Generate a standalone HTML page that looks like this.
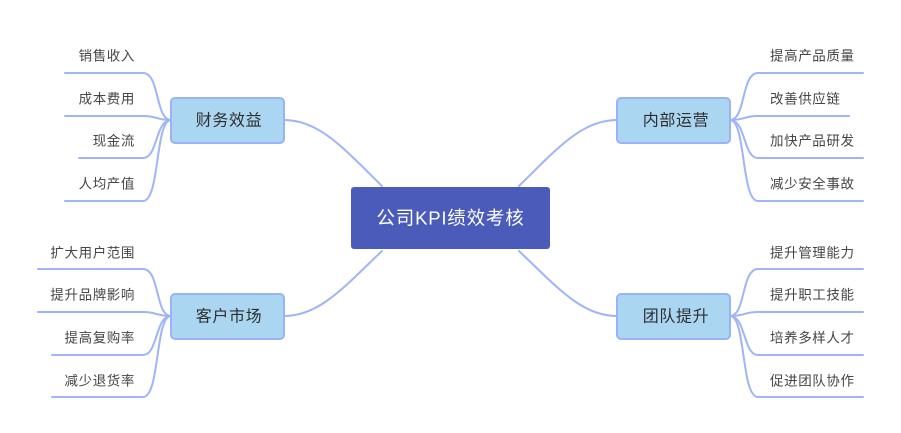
<!DOCTYPE html>
<html><head><meta charset="utf-8"><style>
html,body{margin:0;padding:0;background:#fff;}
svg{display:block;}
text{font-family:"Liberation Sans","Noto Sans CJK SC",sans-serif;}
.l{fill:#454545;font-size:13.5px;letter-spacing:0.6px;}
.b{fill:#2e2e2e;font-size:16px;letter-spacing:0.6px;}
.c{fill:none;stroke:#9fb5f8;stroke-width:2;stroke-linecap:round;}
</style></head><body>
<svg width="901" height="433" viewBox="0 0 901 433" xmlns="http://www.w3.org/2000/svg">
<!-- main connectors -->
<path class="c" d="M284,120 C320,120 345,150 382,186"/>
<path class="c" d="M284,316 C320,316 345,286 382,251"/>
<path class="c" d="M617,120 C581,120 556,150 519,186"/>
<path class="c" d="M617,316 C581,316 556,286 519,251"/>

<!-- top-left leaves -->
<path class="c" d="M65,73 L143,73 C160,73 155,120 171,120"/>
<path class="c" d="M65,116 L143,116 C158,116 155,120 171,120"/>
<path class="c" d="M79,158 L143,158 C158,158 155,120 171,120"/>
<path class="c" d="M65,201 L143,201 C160,201 155,120 171,120"/>
<!-- bottom-left leaves -->
<path class="c" d="M38,269 L143,269 C160,269 155,316 171,316"/>
<path class="c" d="M38,312 L143,312 C158,312 155,316 171,316"/>
<path class="c" d="M52,355 L143,355 C158,355 155,316 171,316"/>
<path class="c" d="M52,397 L143,397 C160,397 155,316 171,316"/>
<!-- top-right leaves -->
<path class="c" d="M863,73 L758,73 C741,73 746,120 730,120"/>
<path class="c" d="M849,116 L758,116 C743,116 746,120 730,120"/>
<path class="c" d="M863,158 L758,158 C743,158 746,120 730,120"/>
<path class="c" d="M863,201 L758,201 C741,201 746,120 730,120"/>
<!-- bottom-right leaves -->
<path class="c" d="M863,269 L758,269 C741,269 746,316 730,316"/>
<path class="c" d="M863,312 L758,312 C743,312 746,316 730,316"/>
<path class="c" d="M863,355 L758,355 C743,355 746,316 730,316"/>
<path class="c" d="M863,397 L758,397 C741,397 746,316 730,316"/>

<!-- central node -->
<rect x="351" y="187" width="199" height="62" rx="3" fill="#4a5bb9"/>
<text x="450.5" y="218" text-anchor="middle" dominant-baseline="central" fill="#fff" font-size="18.5" letter-spacing="0.8">公司KPI绩效考核</text>

<!-- branch nodes -->
<rect x="171" y="98" width="113" height="45" rx="4" fill="#abd6f1" stroke="#9ab2f6" stroke-width="2"/>
<text class="b" x="229" y="121" text-anchor="middle" dominant-baseline="central">财务效益</text>
<rect x="171" y="294" width="113" height="45" rx="4" fill="#abd6f1" stroke="#9ab2f6" stroke-width="2"/>
<text class="b" x="229" y="317" text-anchor="middle" dominant-baseline="central">客户市场</text>
<rect x="617" y="98" width="113" height="45" rx="4" fill="#abd6f1" stroke="#9ab2f6" stroke-width="2"/>
<text class="b" x="676" y="121" text-anchor="middle" dominant-baseline="central">内部运营</text>
<rect x="617" y="294" width="113" height="45" rx="4" fill="#abd6f1" stroke="#9ab2f6" stroke-width="2"/>
<text class="b" x="676" y="317" text-anchor="middle" dominant-baseline="central">团队提升</text>

<!-- left leaf labels -->
<text class="l" x="135" y="56" text-anchor="end" dominant-baseline="central">销售收入</text>
<text class="l" x="135" y="99" text-anchor="end" dominant-baseline="central">成本费用</text>
<text class="l" x="135" y="141" text-anchor="end" dominant-baseline="central">现金流</text>
<text class="l" x="135" y="184" text-anchor="end" dominant-baseline="central">人均产值</text>
<text class="l" x="135" y="253" text-anchor="end" dominant-baseline="central">扩大用户范围</text>
<text class="l" x="135" y="295" text-anchor="end" dominant-baseline="central">提升品牌影响</text>
<text class="l" x="135" y="338" text-anchor="end" dominant-baseline="central">提高复购率</text>
<text class="l" x="135" y="381" text-anchor="end" dominant-baseline="central">减少退货率</text>

<!-- right leaf labels -->
<text class="l" x="770" y="56" dominant-baseline="central">提高产品质量</text>
<text class="l" x="770" y="99" dominant-baseline="central">改善供应链</text>
<text class="l" x="770" y="141" dominant-baseline="central">加快产品研发</text>
<text class="l" x="770" y="184" dominant-baseline="central">减少安全事故</text>
<text class="l" x="770" y="253" dominant-baseline="central">提升管理能力</text>
<text class="l" x="770" y="295" dominant-baseline="central">提升职工技能</text>
<text class="l" x="770" y="338" dominant-baseline="central">培养多样人才</text>
<text class="l" x="770" y="381" dominant-baseline="central">促进团队协作</text>
</svg>
</body></html>
